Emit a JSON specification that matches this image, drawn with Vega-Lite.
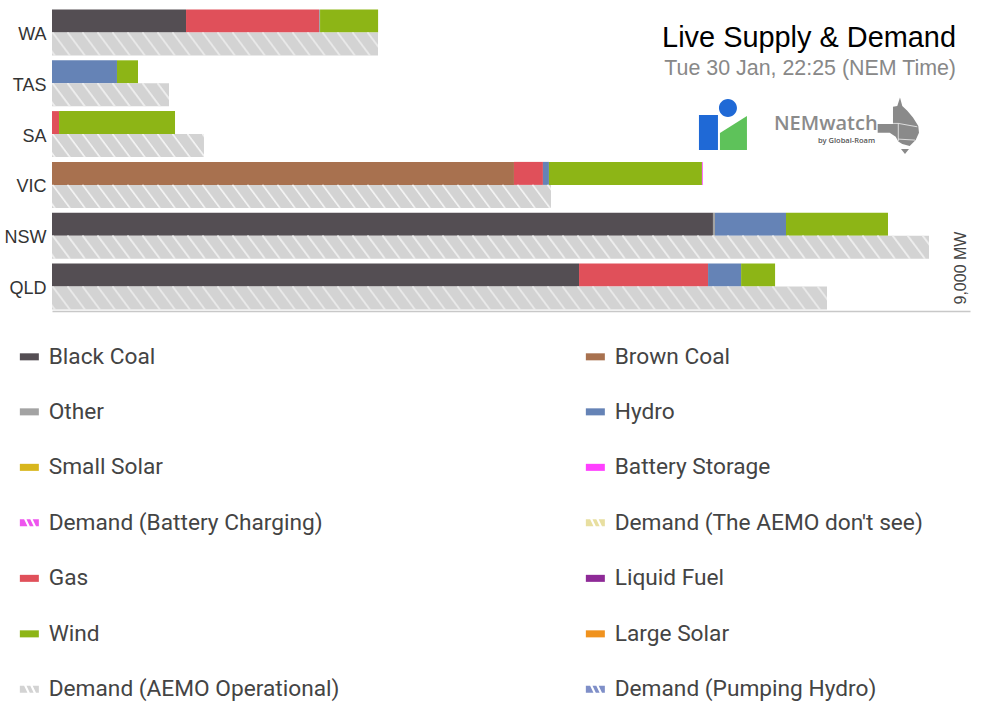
{"$schema":"https://vega.github.io/schema/vega-lite/v6.json","width":918,"height":303,"autosize":"none","padding":{"left":52,"top":8,"right":14,"bottom":408},"background":"white",
"title":{"text":"Live Supply & Demand","subtitle":"Tue 30 Jan, 22:25 (NEM Time)","anchor":"end","frame":"group","font":"Liberation Sans","fontSize":28.9,"fontWeight":"normal","color":"#000000","subtitleFont":"Liberation Sans","subtitleFontSize":21.4,"subtitleColor":"#888888","subtitlePadding":5,"dx":-14,"dy":71,"offset":0},
"config":{"view":{"stroke":null}},
"datasets":{"power":[
{"state":"WA","fuel":"Black Coal","mw":1314,"seq":1,"kind":"supply"},{"state":"WA","fuel":"Gas","mw":1304,"seq":2,"kind":"supply"},{"state":"WA","fuel":"Other","mw":10,"seq":3,"kind":"supply"},{"state":"WA","fuel":"Wind","mw":569,"seq":4,"kind":"supply"},{"state":"WA","fuel":"Demand (AEMO Operational)","mw":3196,"start":0,"seq":1,"kind":"demand"},
{"state":"TAS","fuel":"Hydro","mw":637,"seq":1,"kind":"supply"},{"state":"TAS","fuel":"Wind","mw":206,"seq":2,"kind":"supply"},{"state":"TAS","fuel":"Demand (AEMO Operational)","mw":1147,"start":0,"seq":1,"kind":"demand"},
{"state":"SA","fuel":"Gas","mw":69,"seq":1,"kind":"supply"},{"state":"SA","fuel":"Wind","mw":1137,"seq":2,"kind":"supply"},{"state":"SA","fuel":"Demand (AEMO Operational)","mw":1490,"start":0,"seq":1,"kind":"demand"},
{"state":"VIC","fuel":"Brown Coal","mw":4529,"seq":1,"kind":"supply"},{"state":"VIC","fuel":"Gas","mw":284,"seq":2,"kind":"supply"},{"state":"VIC","fuel":"Hydro","mw":59,"seq":3,"kind":"supply"},{"state":"VIC","fuel":"Wind","mw":1500,"seq":4,"kind":"supply"},{"state":"VIC","fuel":"Battery Storage","mw":8,"seq":5,"kind":"supply"},{"state":"VIC","fuel":"Demand (AEMO Operational)","mw":4892,"start":0,"seq":1,"kind":"demand"},
{"state":"NSW","fuel":"Black Coal","mw":6480,"seq":1,"kind":"supply"},{"state":"NSW","fuel":"Other","mw":20,"seq":2,"kind":"supply"},{"state":"NSW","fuel":"Hydro","mw":696,"seq":3,"kind":"supply"},{"state":"NSW","fuel":"Wind","mw":1000,"seq":4,"kind":"supply"},{"state":"NSW","fuel":"Demand (AEMO Operational)","mw":8598,"start":0,"seq":1,"kind":"demand"},
{"state":"QLD","fuel":"Black Coal","mw":5167,"seq":1,"kind":"supply"},{"state":"QLD","fuel":"Gas","mw":1265,"seq":2,"kind":"supply"},{"state":"QLD","fuel":"Hydro","mw":324,"seq":3,"kind":"supply"},{"state":"QLD","fuel":"Wind","mw":333,"seq":4,"kind":"supply"},{"state":"QLD","fuel":"Demand (AEMO Operational)","mw":7598,"start":0,"seq":1,"kind":"demand"}
],"logo":[{"state":"SA","mw":6578}],"map":[{"state":"SA","mw":8294}]},
"data":{"name":"power"},
"encoding":{"y":{"field":"state","type":"nominal","title":null,"scale":{"domain":["WA","TAS","SA","VIC","NSW","QLD"],"paddingInner":0.0945,"paddingOuter":0.03},"axis":{"domain":false,"ticks":false,"labelFont":"Liberation Sans","labelFontSize":18,"labelColor":"#333333","labelPadding":6,"labelOffset":2.5}}},
"layer":[
{"transform":[{"filter":"datum.kind == 'supply'"}],"mark":{"type":"bar","size":23,"yOffset":-11.5},"encoding":{"x":{"field":"mw","type":"quantitative","stack":"zero","title":null,"scale":{"domain":[0,9000],"nice":false},"axis":{"labels":false,"ticks":false,"grid":false,"domainColor":"#c8c8c8","domainWidth":1.5}},"order":{"field":"seq","type":"quantitative"},"color":{"field":"fuel","type":"nominal","scale":{"domain":["Black Coal","Other","Small Solar","Demand (Battery Charging)","Gas","Wind","Demand (AEMO Operational)","Brown Coal","Hydro","Battery Storage","Demand (The AEMO don't see)","Liquid Fuel","Large Solar","Demand (Pumping Hydro)"],"range":["#544e53","#a3a3a3","#d8b61c","#ee55ee","#e0505a","#8db516","#d3d3d3","#a8714f","#6583b6","#ff40ff","#e8dfa0","#8e2a97","#f0921e","#7f8fc8"]},"legend":{"title":null,"orient":"none","legendX":-34,"legendY":337,"columns":2,"columnPadding":244,"rowPadding":31.5,"labelFont":"Roboto","labelFontSize":22.7,"labelColor":"#444444","labelOffset":8,"labelLimit":400,"symbolSize":361,"symbolStrokeWidth":0,"symbolOpacity":1,"encode":{"symbols":{"update":{"shape":{"signal":"indexof(datum.value,'Demand')==0 ? 'M-1,-0.37H-0.55L-0.2,0.37H-1ZM-0.3,-0.37H0.1L0.45,0.37H0.05ZM0.35,-0.37H1V0.37H0.7Z' : 'M-1,-0.37H1V0.37H-1Z'"}}}}}}}},
{"transform":[{"filter":"datum.kind == 'demand'"}],"mark":{"type":"bar","size":23,"yOffset":11.5},"encoding":{"x":{"field":"start","type":"quantitative"},"x2":{"field":"mw"},"color":{"field":"fuel","type":"nominal"}}},
{"transform":[{"filter":"datum.kind == 'demand'"}],"encoding":{"x":{"field":"start","type":"quantitative"},"x2":{"field":"mw"}},"layer":[
{"mark":{"type":"rule","color":"#f2f2f2","strokeWidth":1.2,"strokeDash":[2,13],"strokeDashOffset":30,"yOffset":0.5}},
{"mark":{"type":"rule","color":"#f2f2f2","strokeWidth":1.2,"strokeDash":[2,13],"strokeDashOffset":29.25,"yOffset":1.5}},
{"mark":{"type":"rule","color":"#f2f2f2","strokeWidth":1.2,"strokeDash":[2,13],"strokeDashOffset":28.5,"yOffset":2.5}},
{"mark":{"type":"rule","color":"#f2f2f2","strokeWidth":1.2,"strokeDash":[2,13],"strokeDashOffset":27.75,"yOffset":3.5}},
{"mark":{"type":"rule","color":"#f2f2f2","strokeWidth":1.2,"strokeDash":[2,13],"strokeDashOffset":27,"yOffset":4.5}},
{"mark":{"type":"rule","color":"#f2f2f2","strokeWidth":1.2,"strokeDash":[2,13],"strokeDashOffset":26.25,"yOffset":5.5}},
{"mark":{"type":"rule","color":"#f2f2f2","strokeWidth":1.2,"strokeDash":[2,13],"strokeDashOffset":25.5,"yOffset":6.5}},
{"mark":{"type":"rule","color":"#f2f2f2","strokeWidth":1.2,"strokeDash":[2,13],"strokeDashOffset":24.75,"yOffset":7.5}},
{"mark":{"type":"rule","color":"#f2f2f2","strokeWidth":1.2,"strokeDash":[2,13],"strokeDashOffset":24,"yOffset":8.5}},
{"mark":{"type":"rule","color":"#f2f2f2","strokeWidth":1.2,"strokeDash":[2,13],"strokeDashOffset":23.25,"yOffset":9.5}},
{"mark":{"type":"rule","color":"#f2f2f2","strokeWidth":1.2,"strokeDash":[2,13],"strokeDashOffset":22.5,"yOffset":10.5}},
{"mark":{"type":"rule","color":"#f2f2f2","strokeWidth":1.2,"strokeDash":[2,13],"strokeDashOffset":21.75,"yOffset":11.5}},
{"mark":{"type":"rule","color":"#f2f2f2","strokeWidth":1.2,"strokeDash":[2,13],"strokeDashOffset":21,"yOffset":12.5}},
{"mark":{"type":"rule","color":"#f2f2f2","strokeWidth":1.2,"strokeDash":[2,13],"strokeDashOffset":20.25,"yOffset":13.5}},
{"mark":{"type":"rule","color":"#f2f2f2","strokeWidth":1.2,"strokeDash":[2,13],"strokeDashOffset":19.5,"yOffset":14.5}},
{"mark":{"type":"rule","color":"#f2f2f2","strokeWidth":1.2,"strokeDash":[2,13],"strokeDashOffset":18.75,"yOffset":15.5}},
{"mark":{"type":"rule","color":"#f2f2f2","strokeWidth":1.2,"strokeDash":[2,13],"strokeDashOffset":18,"yOffset":16.5}},
{"mark":{"type":"rule","color":"#f2f2f2","strokeWidth":1.2,"strokeDash":[2,13],"strokeDashOffset":17.25,"yOffset":17.5}},
{"mark":{"type":"rule","color":"#f2f2f2","strokeWidth":1.2,"strokeDash":[2,13],"strokeDashOffset":16.5,"yOffset":18.5}},
{"mark":{"type":"rule","color":"#f2f2f2","strokeWidth":1.2,"strokeDash":[2,13],"strokeDashOffset":15.75,"yOffset":19.5}},
{"mark":{"type":"rule","color":"#f2f2f2","strokeWidth":1.2,"strokeDash":[2,13],"strokeDashOffset":15,"yOffset":20.5}},
{"mark":{"type":"rule","color":"#f2f2f2","strokeWidth":1.2,"strokeDash":[2,13],"strokeDashOffset":14.25,"yOffset":21.5}},
{"mark":{"type":"rule","color":"#f2f2f2","strokeWidth":1.0,"strokeDash":[2,13],"strokeDashOffset":13.5,"yOffset":22.5}}
]},
{"data":{"values":[{"state":"QLD","mw":9000,"label":"9,000 MW"}]},"mark":{"type":"text","font":"Liberation Sans","fontSize":16,"color":"#444444","angle":270,"align":"left","baseline":"alphabetic","xOffset":-4,"yOffset":18},"encoding":{"x":{"field":"mw","type":"quantitative"},"text":{"field":"label","type":"nominal"}}},
{"data":{"name":"logo"},"mark":{"type":"point","filled":true,"opacity":1,"size":4,"color":"#1f69d6","shape":"M-24,-17H-5V18H-24ZM-4,-24A9,9 0 1 1 14,-24A9,9 0 1 1 -4,-24Z","yOffset":-2},"encoding":{"x":{"field":"mw","type":"quantitative"}}},
{"data":{"name":"logo"},"mark":{"type":"point","filled":true,"opacity":1,"size":4,"color":"#5ec25a","shape":"M-3,1L24,-16V18H-3Z","yOffset":-2},"encoding":{"x":{"field":"mw","type":"quantitative"}}},
{"data":{"name":"map"},"mark":{"type":"point","filled":true,"opacity":1,"size":4,"color":"#8a8a8a","shape":"M2,-27.7L4.3,-19L9.3,-14.3L15,-7.7L20.3,1L21,7.7L17.7,15L11.7,21L4.3,19L0.3,16.3L-2.3,11.7L-8.3,7.7L-20.3,7.7L-20.3,-1L-5,-1L-5,-18.3L-0.7,-19ZM3,24H11L7,29Z","yOffset":-9},"encoding":{"x":{"field":"mw","type":"quantitative"}}},
{"data":{"name":"map"},"mark":{"type":"point","filled":false,"opacity":1,"size":4,"color":"#ffffff","strokeWidth":0.7,"shape":"M-5,-1.7L0.3,-1.7L19.3,1.7M0.3,-1.7L0.3,16M0.3,14L17,15","yOffset":-9},"encoding":{"x":{"field":"mw","type":"quantitative"}}},
{"data":{"values":[{"state":"SA","mw":7078,"label":"NEMwatch"}]},"mark":{"type":"text","font":"Open Sans","fontSize":20,"fontWeight":600,"color":"#8b8b8b","align":"left","baseline":"alphabetic","yOffset":-4},"encoding":{"x":{"field":"mw","type":"quantitative"},"text":{"field":"label","type":"nominal"}}},
{"data":{"values":[{"state":"SA","mw":8069,"label":"by Global-Roam"}]},"mark":{"type":"text","font":"Open Sans","fontSize":7.5,"fontWeight":600,"color":"#555555","align":"right","baseline":"alphabetic","yOffset":9},"encoding":{"x":{"field":"mw","type":"quantitative"},"text":{"field":"label","type":"nominal"}}}
]}
